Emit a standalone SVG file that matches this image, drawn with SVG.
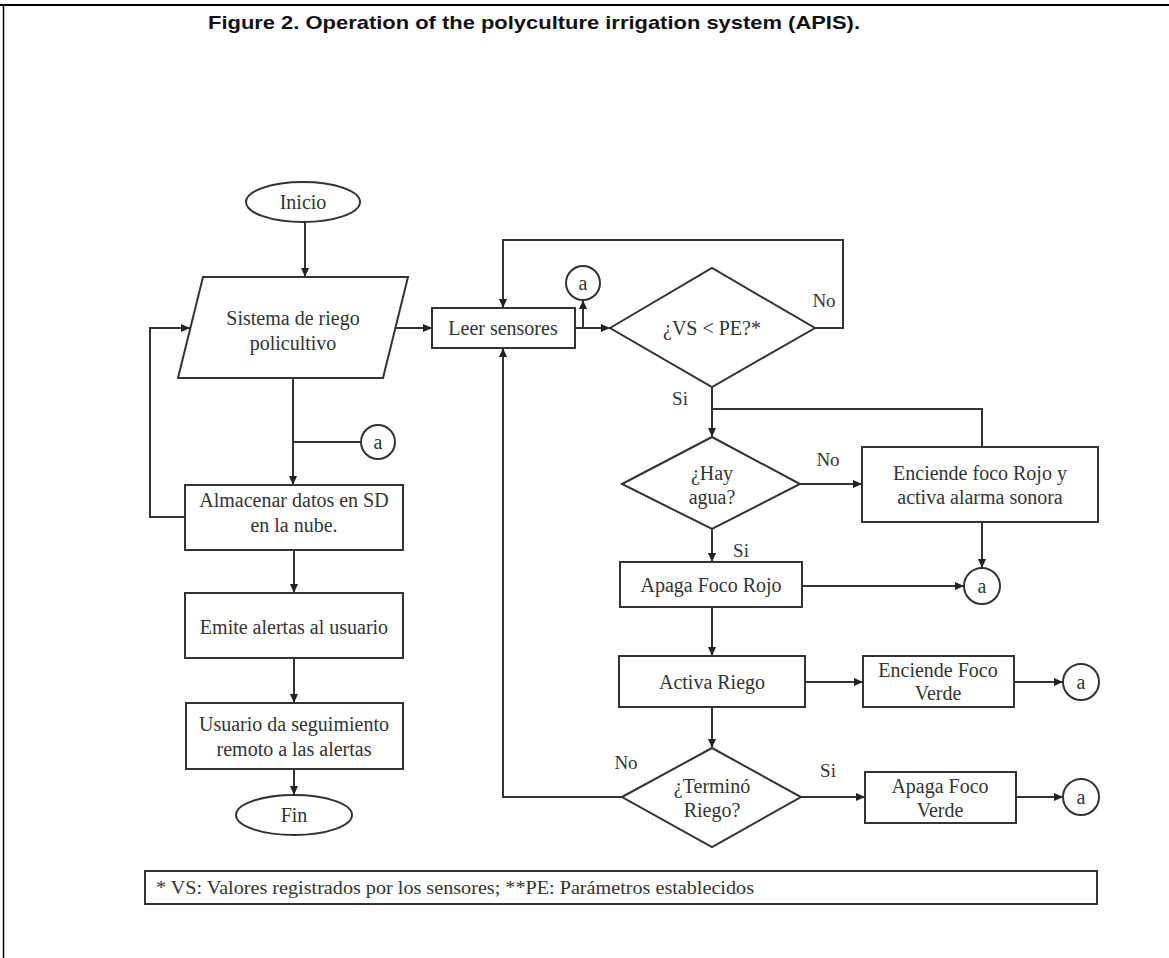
<svg xmlns="http://www.w3.org/2000/svg" width="1169" height="958" viewBox="0 0 1169 958">
<style>
.s{fill:#fff;stroke:#333;stroke-width:2}
.t{font-family:"Liberation Serif","Times New Roman",serif;font-size:20px;fill:#333;text-anchor:middle}
.l{font-family:"Liberation Serif","Times New Roman",serif;font-size:19px;fill:#333;text-anchor:middle}
.c{fill:none;stroke:#333;stroke-width:2}
.a{marker-end:url(#ah)}
</style>
<defs>
<marker id="ah" markerUnits="userSpaceOnUse" markerWidth="9" markerHeight="8" refX="9" refY="4" orient="auto">
<path d="M0,0 L9,4 L0,8 z" fill="#222"/>
</marker>
</defs>
<rect x="0" y="0" width="1169" height="958" fill="#fff"/>
<line x1="0" y1="5" x2="1169" y2="5" stroke="#000" stroke-width="2"/>
<line x1="3.5" y1="5" x2="3.5" y2="958" stroke="#000" stroke-width="1.5"/>
<text x="534" y="29" font-family="'Liberation Sans',Arial,sans-serif" font-weight="bold" font-size="19" text-anchor="middle" fill="#111" textLength="652" lengthAdjust="spacingAndGlyphs">Figure 2. Operation of the polyculture irrigation system (APIS).</text>

<g id="connectors">
<path class="c a" d="M305,222 V277"/>
<path class="c a" d="M395,328 H432"/>
<path class="c a" d="M293,378 V485"/>
<path class="c" d="M361,442 H293"/>
<path class="c a" d="M185,517 H150 V328 H190"/>
<path class="c a" d="M294,550 V593"/>
<path class="c a" d="M294,658 V703"/>
<path class="c a" d="M294,769 V795"/>
<path class="c a" d="M575,328 H610"/>
<path class="c a" d="M583,328 V300"/>
<path class="c a" d="M815,328 H843 V240 H503 V308"/>
<path class="c a" d="M712,387 V437"/>
<path class="c" d="M712,409 H982 V447"/>
<path class="c a" d="M800,484 H862"/>
<path class="c a" d="M982,522 V568"/>
<path class="c a" d="M712,529 V562"/>
<path class="c a" d="M802,586 H964"/>
<path class="c a" d="M712,607 V656"/>
<path class="c a" d="M805,682 H863"/>
<path class="c a" d="M1014,682 H1063"/>
<path class="c a" d="M712,707 V748"/>
<path class="c a" d="M801,797 H865"/>
<path class="c a" d="M1016,797 H1063"/>
<path class="c a" d="M622,797 H503 V348"/>
</g>

<g id="labels">
<text class="l" x="824" y="307">No</text>
<text class="l" x="680" y="405">Si</text>
<text class="l" x="828" y="466">No</text>
<text class="l" x="741" y="557">Si</text>
<text class="l" x="626" y="769">No</text>
<text class="l" x="828" y="777">Si</text>
</g>

<g id="inicio"><ellipse class="s" cx="303" cy="202" rx="57" ry="20"/><text class="t" x="303" y="209">Inicio</text></g>
<g id="sistema"><polygon class="s" points="203,277 408,277 383,378 178,378"/><text class="t" x="293" y="325">Sistema de riego</text><text class="t" x="293" y="350">policultivo</text></g>
<g id="conn-a1"><circle class="s" cx="378" cy="442" r="17"/><text class="t" x="378" y="449">a</text></g>
<g id="almacenar"><rect class="s" x="185" y="485" width="218" height="65"/><text class="t" x="294" y="507">Almacenar datos en SD</text><text class="t" x="294" y="532">en la nube.</text></g>
<g id="emite"><rect class="s" x="185" y="593" width="218" height="65"/><text class="t" x="294" y="634">Emite alertas al usuario</text></g>
<g id="usuario"><rect class="s" x="186" y="703" width="217" height="66"/><text class="t" x="294" y="731">Usuario da seguimiento</text><text class="t" x="294" y="756">remoto a las alertas</text></g>
<g id="fin"><ellipse class="s" cx="294" cy="815" rx="58" ry="20"/><text class="t" x="294" y="822">Fin</text></g>
<g id="leer"><rect class="s" x="432" y="308" width="143" height="40"/><text class="t" x="503" y="335">Leer sensores</text></g>
<g id="conn-a2"><circle class="s" cx="583" cy="283" r="17"/><text class="t" x="583" y="290">a</text></g>
<g id="d-vs"><polygon class="s" points="610,328 712,268 815,328 712,387"/><text class="t" x="712" y="335">¿VS &lt; PE?*</text></g>
<g id="d-agua"><polygon class="s" points="622,484 712,437 800,484 712,529"/><text class="t" x="712" y="480">¿Hay</text><text class="t" x="712" y="504">agua?</text></g>
<g id="rojo"><rect class="s" x="862" y="447" width="236" height="75"/><text class="t" x="980" y="480">Enciende foco Rojo y</text><text class="t" x="980" y="504">activa alarma sonora</text></g>
<g id="conn-a3"><circle class="s" cx="982" cy="586" r="18"/><text class="t" x="982" y="593">a</text></g>
<g id="apaga-rojo"><rect class="s" x="620" y="562" width="182" height="45"/><text class="t" x="711" y="592">Apaga Foco Rojo</text></g>
<g id="activa"><rect class="s" x="619" y="656" width="186" height="51"/><text class="t" x="712" y="689">Activa Riego</text></g>
<g id="verde-on"><rect class="s" x="863" y="656" width="151" height="51"/><text class="t" x="938" y="677">Enciende Foco</text><text class="t" x="938" y="700">Verde</text></g>
<g id="conn-a4"><circle class="s" cx="1081" cy="682" r="18"/><text class="t" x="1081" y="689">a</text></g>
<g id="d-riego"><polygon class="s" points="622,797 712,748 801,797 712,847"/><text class="t" x="712" y="793">¿Terminó</text><text class="t" x="712" y="817">Riego?</text></g>
<g id="verde-off"><rect class="s" x="865" y="772" width="151" height="51"/><text class="t" x="940" y="793">Apaga Foco</text><text class="t" x="940" y="817">Verde</text></g>
<g id="conn-a5"><circle class="s" cx="1081" cy="797" r="18"/><text class="t" x="1081" y="804">a</text></g>
<g id="legend"><rect class="s" x="145" y="871" width="952" height="33"/><text x="156" y="894" font-family="'Liberation Serif','Times New Roman',serif" font-size="19" fill="#333" textLength="598" lengthAdjust="spacingAndGlyphs">* VS: Valores registrados por los sensores; **PE: Parámetros establecidos</text></g>
</svg>
